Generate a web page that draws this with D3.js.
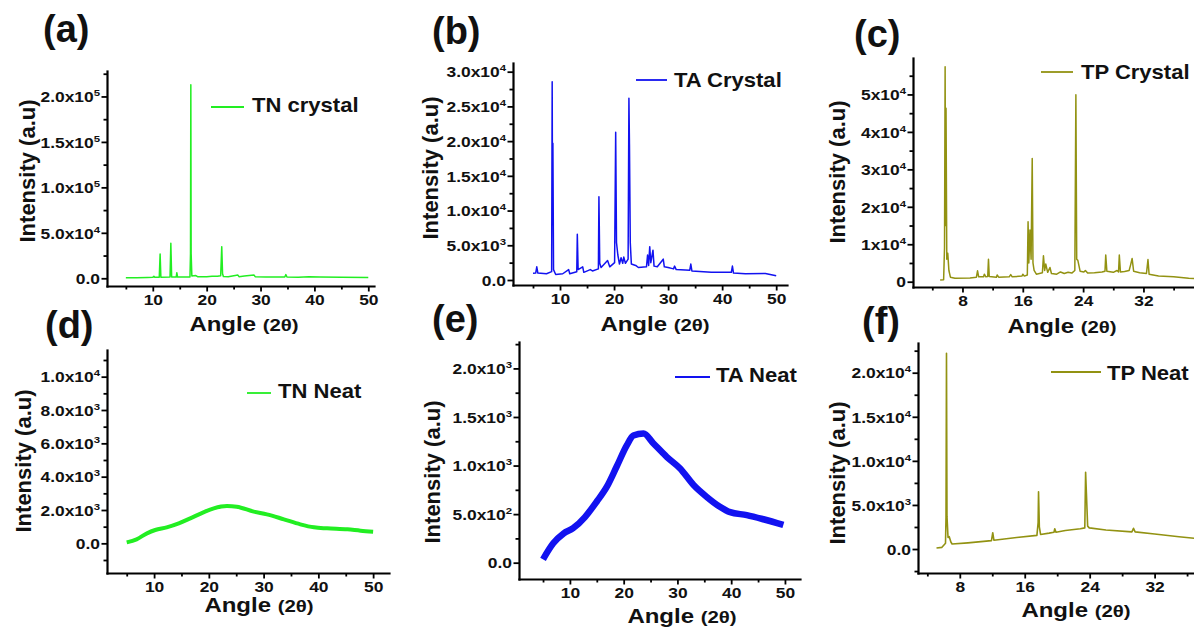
<!DOCTYPE html>
<html>
<head>
<meta charset="utf-8">
<script src="https://cdn.jsdelivr.net/npm/d3@7"></script>
<style>
  body { margin: 0; background: #fff; }
  svg { display: block; }
  text { font-family: "Liberation Sans", Arial, sans-serif; font-weight: bold; fill: #111; }
</style>
</head>
<body>
<svg id="chart" width="1194" height="628"></svg>
<script>
// ---- data: [angle 2θ, intensity] ----
const tnCrystal = [
  [5.0, 600], [7, 700], [9, 900], [10.0, 1000], [10.2, 2200], [10.4, 1000], [11.2, 1100],
  [11.36, 26700], [11.5, 1200], [13.2, 1300], [13.35, 38500], [13.5, 1400], [14.35, 1300],
  [14.46, 6200], [14.6, 1300], [16.9, 1500], [17.0, 27000], [17.06, 212800], [17.12, 27000],
  [17.25, 2500], [18.0, 3000], [18.3, 1800], [20, 1800], [21, 2200], [22, 2200], [22.6, 2800],
  [22.8, 34800], [22.95, 5000], [23.1, 2000], [24, 1800], [25.8, 3500], [26, 1800], [27, 2500],
  [28.8, 3500], [29, 1800], [31, 1500], [34.5, 1400], [34.7, 4000], [34.9, 1400], [37, 1200],
  [39, 1800], [41, 1500], [45, 1000], [50, 800]
]
const taCrystal = [
  [5.0, 960], [5.5, 1000], [5.7, 1900], [5.9, 1000], [7.5, 900], [8.45, 1200], [8.55, 28560],
  [8.62, 8000], [8.68, 19700], [8.8, 1500], [9.2, 800], [10.5, 900], [11.6, 1500], [11.8, 900],
  [13.1, 1200], [13.2, 6580], [13.35, 1500], [14.2, 1900], [14.4, 1100], [15.6, 1500], [16.0, 1300],
  [17.1, 1600], [17.2, 12000], [17.35, 2400], [17.6, 1800], [18.8, 2800], [19.2, 1900], [20.1, 2500],
  [20.3, 21260], [20.45, 5400], [20.7, 3600], [21.0, 2300], [21.3, 3200], [21.6, 2400], [21.8, 3300],
  [22.1, 2400], [22.6, 3000], [22.75, 26170], [22.85, 19500], [23.0, 5400], [23.2, 2300], [24.0, 2100],
  [24.5, 1800], [26.0, 1900], [26.2, 3600], [26.4, 2100], [26.6, 4800], [26.8, 2500], [27.2, 4300],
  [27.4, 2000], [28.0, 1900], [29.1, 3000], [29.3, 1900], [30, 1800], [31.0, 1600], [31.2, 2000],
  [31.5, 1500], [34.0, 1400], [34.2, 2300], [34.4, 1300], [38, 1100], [41.7, 1100], [41.9, 2000],
  [42.1, 1000], [44.3, 900], [48, 950], [50, 600]
]
const tpCrystal = [
  [5.04, 450], [5.5, 500], [5.62, 9000], [5.7, 57400], [5.76, 15000], [5.82, 46300], [5.92, 6000],
  [6.05, 7600], [6.2, 3000], [6.4, 1200], [7, 900], [9, 1000], [9.85, 1200], [10.0, 2900],
  [10.15, 1300], [10.8, 1300], [10.9, 2000], [11.1, 1300], [11.35, 1400], [11.45, 6000], [11.55, 1400],
  [12.5, 1200], [12.6, 1800], [12.8, 1200], [14.2, 1300], [14.4, 1900], [14.6, 1300], [15.9, 1500],
  [16.0, 2000], [16.2, 1500], [16.6, 1800], [16.7, 16000], [16.8, 5000], [16.95, 13800], [17.1, 6000],
  [17.25, 32900], [17.35, 5000], [17.5, 3000], [17.8, 2000], [18.6, 2400], [18.74, 6900], [18.9, 3000],
  [19.05, 4700], [19.3, 2500], [19.6, 3800], [19.8, 2200], [20.5, 2000], [21, 2600], [21.5, 2200],
  [22, 2500], [22.5, 2300], [22.9, 3000], [23.04, 49900], [23.15, 6000], [23.3, 5700], [23.6, 2800],
  [24.1, 2600], [24.3, 3000], [24.6, 2300], [25.5, 2400], [26.5, 2600], [26.9, 2800], [27.0, 7100],
  [27.15, 2800], [28.0, 2500], [28.5, 3000], [28.7, 2600], [28.8, 7100], [28.95, 2600], [29.5, 2700],
  [30.1, 3000], [30.3, 4500], [30.5, 6200], [30.7, 2800], [31.5, 2400], [32.4, 2200], [32.6, 5900],
  [32.75, 2000], [34, 1500], [36, 1300], [38, 900], [40, 800]
]
const tnNeat = [
  [5.0, 60], [6.8, 240], [8.7, 600], [10.2, 800], [12.3, 960], [14.5, 1200], [16.6, 1500],
  [19.0, 1860], [20.9, 2100], [23.3, 2240], [25.1, 2200], [28.2, 1900], [30.6, 1740], [33.7, 1440],
  [36.7, 1140], [39.2, 960], [41.6, 900], [45.3, 840], [47.7, 760], [50.0, 700]
]
const taNeat = [
  [5.0, 35], [6.9, 200], [8.8, 300], [10.6, 355], [12.8, 470], [15.0, 630], [16.85, 780],
  [18.7, 990], [20.6, 1210], [21.8, 1310], [23.7, 1330], [25.5, 1230], [28.0, 1090], [30.5, 970],
  [33.0, 800], [35.4, 680], [37.9, 576], [39.8, 520], [42.9, 490], [46.0, 447], [49.7, 388]
]
const tpNeat = [
  [5.13, 110], [5.8, 190], [6.24, 650], [6.3, 3600], [6.36, 22200], [6.42, 3700], [6.55, 1300],
  [6.7, 1400], [6.9, 800], [7.05, 570], [9, 700], [11.9, 950], [12.06, 1850], [12.2, 1000],
  [15, 1300], [17.5, 1550], [17.65, 3000], [17.7, 6500], [17.8, 2500], [17.95, 1650], [19.0, 1800],
  [19.6, 1900], [19.7, 2300], [19.85, 1900], [21, 2100], [22.85, 2300], [23.4, 2400], [23.5, 8700],
  [23.6, 6300], [23.75, 2600], [23.95, 2400], [26, 2150], [29.2, 1950], [29.4, 2350], [29.6, 1950],
  [32, 1700], [35, 1400], [37, 1200]
]

// ---- tick values / labels ----
const xTicksWide = [10, 20, 30, 40, 50]
const xMinorWide = [5, 15, 25, 35, 45]
const xTicksNarrow = [8, 16, 24, 32]
const xMinorNarrow = [4, 12, 20, 28, 36]

const yTicksA = [0, 5e4, 1e5, 1.5e5, 2e5]
const yLabelsA = ['0.0', '5.0x10^4', '1.0x10^5', '1.5x10^5', '2.0x10^5']
const yTicksB = [0, 5e3, 1e4, 1.5e4, 2e4, 2.5e4, 3e4]
const yLabelsB = ['0.0', '5.0x10^3', '1.0x10^4', '1.5x10^4', '2.0x10^4', '2.5x10^4', '3.0x10^4']
const yTicksC = [0, 1e4, 2e4, 3e4, 4e4, 5e4]
const yLabelsC = ['0', '1x10^4', '2x10^4', '3x10^4', '4x10^4', '5x10^4']
const yTicksD = [0, 2e3, 4e3, 6e3, 8e3, 1e4]
const yLabelsD = ['0.0', '2.0x10^3', '4.0x10^3', '6.0x10^3', '8.0x10^3', '1.0x10^4']
const yTicksE = [0, 500, 1000, 1500, 2000]
const yLabelsE = ['0.0', '5.0x10^2', '1.0x10^3', '1.5x10^3', '2.0x10^3']
const yTicksF = [0, 5e3, 1e4, 1.5e4, 2e4]
const yLabelsF = ['0.0', '5.0x10^3', '1.0x10^4', '1.5x10^4', '2.0x10^4']

const GREEN = '#22ee22'
const BLUE = '#1212f0'
const OLIVE = '#929212'
const SX = 1.2 // the figure is stretched horizontally

const svg = d3.select('#chart')

const panels = [
  { data: tnCrystal, color: GREEN, lw: 1.5, curve: d3.curveLinear,
    xRange: [107, 374], yRange: [286, 71], xDomain: [1.5, 51.06], yDomain: [-8500, 228000],
    xTicks: xTicksWide, xMinor: xMinorWide, yTicks: yTicksA, yLabels: yLabelsA, yStep: 2.5e4,
    label: '(a)', labelAt: [43, 42], legend: 'TN crystal', legendAt: [211, 244, 107, 252, 112],
    yTitleAt: [27, 171], xTitleAt: [244, 331] },
  { data: taCrystal, color: BLUE, lw: 1.5, curve: d3.curveLinear,
    xRange: [513, 787], yRange: [285, 63], xDomain: [1.3, 52.0], yDomain: [-720, 31250],
    xTicks: xTicksWide, xMinor: xMinorWide, yTicks: yTicksB, yLabels: yLabelsB, yStep: 2.5e3,
    label: '(b)', labelAt: [432, 44], legend: 'TA Crystal', legendAt: [636, 667, 80, 674, 87],
    yTitleAt: [430, 168], xTitleAt: [655, 331] },
  { data: tpCrystal, color: OLIVE, lw: 1.5, curve: d3.curveLinear,
    xRange: [913, 1200], yRange: [287, 58], xDomain: [1.44, 39.5], yDomain: [-1415, 59730],
    xTicks: xTicksNarrow, xMinor: xMinorNarrow, yTicks: yTicksC, yLabels: yLabelsC, yStep: 5e3,
    label: '(c)', labelAt: [854, 47], legend: 'TP Crystal', legendAt: [1041, 1073, 72, 1081, 79],
    yTitleAt: [837, 172], xTitleAt: [1062, 333] },
  { data: tnNeat, color: GREEN, lw: 4, curve: d3.curveMonotoneX,
    xRange: [107, 389], yRange: [573, 350], xDomain: [1.4, 52.9], yDomain: [-1780, 11600],
    xTicks: xTicksWide, xMinor: xMinorWide, yTicks: yTicksD, yLabels: yLabelsD, yStep: 1e3,
    label: '(d)', labelAt: [45, 338], legend: 'TN Neat', legendAt: [247, 271, 393, 278, 398],
    yTitleAt: [23, 461], xTitleAt: [259, 612] },
  { data: taNeat, color: BLUE, lw: 6.5, curve: d3.curveMonotoneX,
    xRange: [519, 800], yRange: [579, 342], xDomain: [0.53, 52.8], yDomain: [-168, 2272],
    xTicks: xTicksWide, xMinor: xMinorWide, yTicks: yTicksE, yLabels: yLabelsE, yStep: 250,
    label: '(e)', labelAt: [432, 332], legend: 'TA Neat', legendAt: [675, 710, 377, 716, 382],
    yTitleAt: [432, 472], xTitleAt: [682, 623] },
  { data: tpNeat, color: OLIVE, lw: 1.6, curve: d3.curveLinear,
    xRange: [918, 1196], yRange: [573, 343], xDomain: [2.85, 37.1], yDomain: [-2720, 23370],
    xTicks: xTicksNarrow, xMinor: xMinorNarrow, yTicks: yTicksF, yLabels: yLabelsF, yStep: 2.5e3,
    label: '(f)', labelAt: [862, 334], legend: 'TP Neat', legendAt: [1051, 1101, 372, 1107, 380],
    yTitleAt: [837, 473], xTitleAt: [1076, 617] },
]

function writeLabel(text, str) {
  text.text(null)
  let [base, exp] = str.split('^')
  text.append('tspan').text(base)
  if (exp) {
    text.append('tspan').attr('dy', -6).attr('font-size', 9.5).text(exp)
  }
}

function styleAxis(g) {
  g.attr('font-family', null).attr('font-size', null)
  g.select('.domain').attr('stroke', '#000').attr('stroke-width', 2.2).attr('stroke-linecap', 'square')
  g.selectAll('.tick line').attr('stroke', '#000').attr('stroke-width', 1.8)
}

function drawPanel(p) {
  let g = svg.append('g')
  let x = d3.scaleLinear().domain(p.xDomain).range(p.xRange)
  let y = d3.scaleLinear().domain(p.yDomain).range(p.yRange)

  // minor ticks
  let yMinor = d3.range(Math.ceil(p.yDomain[0] / p.yStep) * p.yStep, p.yDomain[1], p.yStep)
    .filter(v => !p.yTicks.includes(v))
  g.append('g')
    .attr('transform', `translate(0,${p.yRange[0]})`)
    .call(d3.axisBottom(x).tickValues(p.xMinor).tickSize(3.5).tickFormat(''))
    .call(styleAxis)
    .call(s => s.select('.domain').remove())
  g.append('g')
    .attr('transform', `translate(${p.xRange[0]},0)`)
    .call(d3.axisLeft(y).tickValues(yMinor).tickSize(3.5).tickFormat(''))
    .call(styleAxis)
    .call(s => s.select('.domain').remove())

  // major axes
  let gx = g.append('g')
    .attr('transform', `translate(0,${p.yRange[0]})`)
    .call(d3.axisBottom(x).tickValues(p.xTicks).tickSize(5.5).tickSizeOuter(0).tickFormat(d3.format('d')))
    .call(styleAxis)
  gx.selectAll('.tick text')
    .attr('y', 19).attr('dy', null)
    .attr('font-size', 14.5)
    .attr('transform', `scale(${SX},1)`)

  let gy = g.append('g')
    .attr('transform', `translate(${p.xRange[0]},0)`)
    .call(d3.axisLeft(y).tickValues(p.yTicks).tickSize(5.5).tickSizeOuter(0))
    .call(styleAxis)
  gy.selectAll('.tick text')
    .attr('x', -7 / SX).attr('dy', '0.36em')
    .attr('font-size', 14.5)
    .attr('transform', `scale(${SX},1)`)
    .each(function (d, i) { writeLabel(d3.select(this), p.yLabels[i]) })

  // series
  let line = d3.line()
    .x(d => x(d[0]))
    .y(d => y(d[1]))
    .curve(p.curve)
  g.append('path')
    .attr('d', line(p.data))
    .attr('fill', 'none')
    .attr('stroke', p.color)
    .attr('stroke-width', p.lw)
    .attr('stroke-linejoin', 'round')

  // legend
  let [lx1, lx2, ly, tx, ty] = p.legendAt
  g.append('line')
    .attr('x1', lx1).attr('x2', lx2).attr('y1', ly).attr('y2', ly)
    .attr('stroke', p.color).attr('stroke-width', 1.8)
  g.append('text')
    .attr('transform', `translate(${tx},${ty}) scale(1.05,1)`)
    .attr('font-size', 21)
    .text(p.legend)

  // titles
  g.append('text')
    .attr('transform', `translate(${p.yTitleAt[0]},${p.yTitleAt[1]}) rotate(-90)`)
    .attr('text-anchor', 'middle')
    .attr('dy', '0.36em')
    .attr('font-size', 22)
    .text('Intensity (a.u)')

  let xt = g.append('text')
    .attr('transform', `translate(${p.xTitleAt[0]},${p.xTitleAt[1]}) scale(${SX},1)`)
    .attr('text-anchor', 'middle')
    .attr('font-size', 20)
  xt.append('tspan').text('Angle ')
  xt.append('tspan').attr('font-size', 17).text('(2θ)')

  g.append('text')
    .attr('x', p.labelAt[0]).attr('y', p.labelAt[1])
    .attr('font-size', 38)
    .text(p.label)
}

panels.forEach(drawPanel)
</script>
</body>
</html>
